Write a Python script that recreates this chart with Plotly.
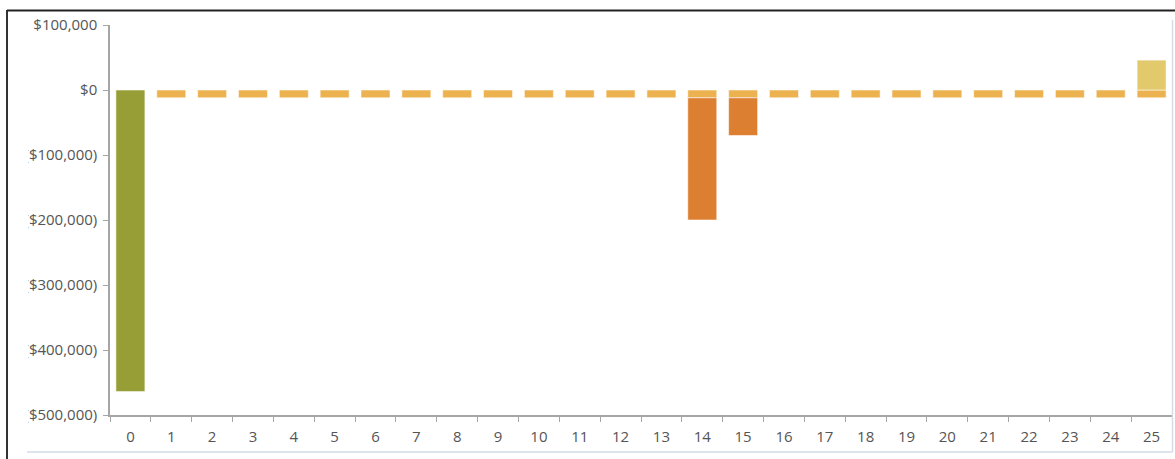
import plotly.graph_objects as go

periods = list(range(26))
initial_investment = [-464000] + [None] * 25
annual_cost = [None] + [-12000] * 25
major_costs = [None] * 14 + [-188000, -58000] + [None] * 10
salvage_value = [None] * 25 + [46000]

tick_vals = [100000, 0, -100000, -200000, -300000, -400000, -500000]
tick_text = ["$100,000", "$0", "($100,000)", "($200,000)", "($300,000)", "($400,000)", "($500,000)"]

W, H = 1175, 459
L, R, T, B = 110, 3, 25, 44
pw, ph = W - L - R, H - T - B

def px(x):
    return (x - L) / pw

def py(y):
    return (H - B - y) / ph

edge = dict(color="rgba(255,255,255,0.55)", width=1)
fig = go.Figure()
fig.add_bar(x=periods, y=initial_investment, marker=dict(color="#969E35", line=edge), width=0.71)
fig.add_bar(x=periods, y=annual_cost, marker=dict(color="#ECB24F", line=edge), width=0.71)
fig.add_bar(x=periods, y=major_costs, marker=dict(color="#DD7F31", line=edge), width=0.71)
fig.add_bar(x=periods, y=salvage_value, marker=dict(color="#E2CA6C", line=edge), width=0.71)

font = dict(family="Open Sans, Noto Sans, sans-serif", size=15, color="#555555")
fig.update_layout(
    width=W, height=H,
    margin=dict(l=L, r=R, t=T, b=B, pad=0),
    barmode="relative",
    showlegend=False,
    plot_bgcolor="white", paper_bgcolor="white",
    font=font,
    xaxis=dict(
        type="category", range=[-0.5, 25.5], tickmode="array", tickvals=periods,
        ticktext=[str(p) for p in periods], tickson="boundaries",
        ticks="outside", ticklen=5, tickcolor="#A6A6A6",
        showline=True, linecolor="#A6A6A6", linewidth=1.5,
        showgrid=False, zeroline=False, tickfont=font, ticklabelstandoff=7,
    ),
    yaxis=dict(
        range=[-500000, 100000], tickmode="array", tickvals=tick_vals, ticktext=tick_text,
        ticks="outside", ticklen=5, tickcolor="#A6A6A6",
        showline=True, linecolor="#A6A6A6", linewidth=1.5,
        showgrid=False, zeroline=False, tickfont=font, ticklabelstandoff=3,
    ),
    shapes=[
        # clip of left labels
        dict(type="rect", xref="paper", yref="paper", x0=px(8), x1=px(28), y0=py(445), y1=py(15),
             fillcolor="white", line=dict(width=0), layer="above"),
        # outer frame
        dict(type="line", xref="paper", yref="paper", x0=px(7), x1=px(7), y0=py(10), y1=py(459),
             line=dict(color="#333333", width=2), layer="above"),
        dict(type="line", xref="paper", yref="paper", x0=px(7), x1=px(1175), y0=py(10.5), y1=py(10.5),
             line=dict(color="#222222", width=2), layer="above"),
        dict(type="line", xref="paper", yref="paper", x0=px(1172.5), x1=px(1172.5), y0=py(20), y1=py(452),
             line=dict(color="#D5DCE8", width=1.5), layer="above"),
        dict(type="line", xref="paper", yref="paper", x0=px(27), x1=px(1172.5), y0=py(452), y1=py(452),
             line=dict(color="#D5DCE8", width=1.5), layer="above"),
    ],
)

fig.write_html("out.html", config={"displayModeBar": False},
               post_script="document.body.style.margin='0';document.body.style.overflow='hidden';")
